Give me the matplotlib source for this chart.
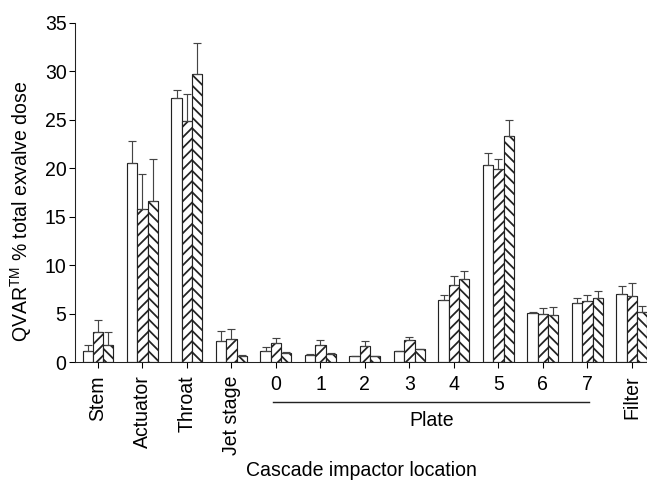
import numpy as np
import matplotlib
matplotlib.use("Agg")
import matplotlib.pyplot as plt
import matplotlib.transforms as mtransforms

DPI = 64
plt.rcParams["font.family"] = ["Liberation Sans", "DejaVu Sans"]
plt.rcParams["mathtext.fontset"] = "custom"
plt.rcParams["mathtext.rm"] = "Liberation Sans"
plt.rcParams["hatch.linewidth"] = 2.0

# ── Data ────────────────────────────────────────────────────────────────
locations = ["Stem", "Actuator", "Throat", "Jet stage",
             "0", "1", "2", "3", "4", "5", "6", "7", "Filter"]
rotated = {"Stem", "Actuator", "Throat", "Jet stage", "Filter"}

open_vals = [1.2, 20.5, 27.2, 2.23, 1.17, 0.79, 0.65, 1.17, 6.46, 20.36, 5.05, 6.09, 7.08]
open_err = [0.55, 2.3, 0.9, 0.97, 0.38, 0.06, 0.03, 0.03, 0.52, 1.21, 0.17, 0.58, 0.79]

fwd_vals = [3.13, 15.8, 24.9, 2.37, 2.0, 1.75, 1.65, 2.3, 7.98, 19.95, 5.02, 6.33, 6.84]
fwd_err = [1.24, 3.6, 2.75, 1.03, 0.55, 0.52, 0.52, 0.3, 0.96, 1.0, 0.55, 0.65, 1.31]

back_vals = [1.75, 16.65, 29.75, 0.68, 1.0, 0.89, 0.65, 1.34, 8.63, 23.35, 4.85, 6.67, 5.16]
back_err = [1.35, 4.3, 3.15, 0.1, 0.05, 0.06, 0.05, 0.06, 0.82, 1.6, 0.82, 0.66, 0.65]

series = [(open_vals, open_err, None),
          (fwd_vals, fwd_err, "//"),
          (back_vals, back_err, "\\\\")]

fig = plt.figure(figsize=(647 / DPI, 485 / DPI), dpi=DPI)
ax = fig.add_axes([75 / 647, 122.7 / 485, 572 / 647, 339.6 / 485])

x = np.arange(len(locations))
w = 0.232
for i, (vals, errs, hatch) in enumerate(series):
    ax.bar(x + (i - 1) * w, vals, width=w, color="white", edgecolor="#222222",
           linewidth=1.3, hatch=hatch,
           yerr=[np.zeros(len(errs)), errs],
           error_kw=dict(ecolor="#444444", elinewidth=1.3, capsize=4.5, capthick=1.3))

ax.set_xlim(-0.517, 12.34)
ax.set_ylim(0, 35)
ax.set_yticks(np.arange(0, 36, 5))
ax.set_xticks(x)
ax.set_xticklabels(locations)
for lab in ax.get_xticklabels():
    if lab.get_text() in rotated:
        lab.set_rotation(90)

for side in ["top", "right"]:
    ax.spines[side].set_visible(False)
for side in ["left", "bottom"]:
    ax.spines[side].set_linewidth(1.2)
    ax.spines[side].set_color("#222222")

ax.tick_params(axis="y", direction="out", length=6.5, width=1.2, labelsize=22, pad=3)
ax.tick_params(axis="x", direction="out", length=6.5, width=1.2, labelsize=22, pad=8)

# Plate bracket line + label
trans = mtransforms.blended_transform_factory(ax.transData, fig.transFigure)
ax.plot([3.93, 11.03], [(485 - 401.7) / 485] * 2, transform=trans,
        clip_on=False, color="#222222", lw=1.6)
ax.text(7.5, (485 - 420) / 485, "Plate", transform=trans,
        ha="center", va="center", fontsize=22)

fig.text(361 / 647, (485 - 470) / 485, "Cascade impactor location",
         ha="center", va="center", fontsize=22)
fig.text(21 / 647, (485 - 211) / 485, r"QVAR$^{\mathrm{TM}}$ % total exvalve dose",
         rotation=90, ha="center", va="center", fontsize=22)

fig.savefig("out.png", dpi=DPI)
